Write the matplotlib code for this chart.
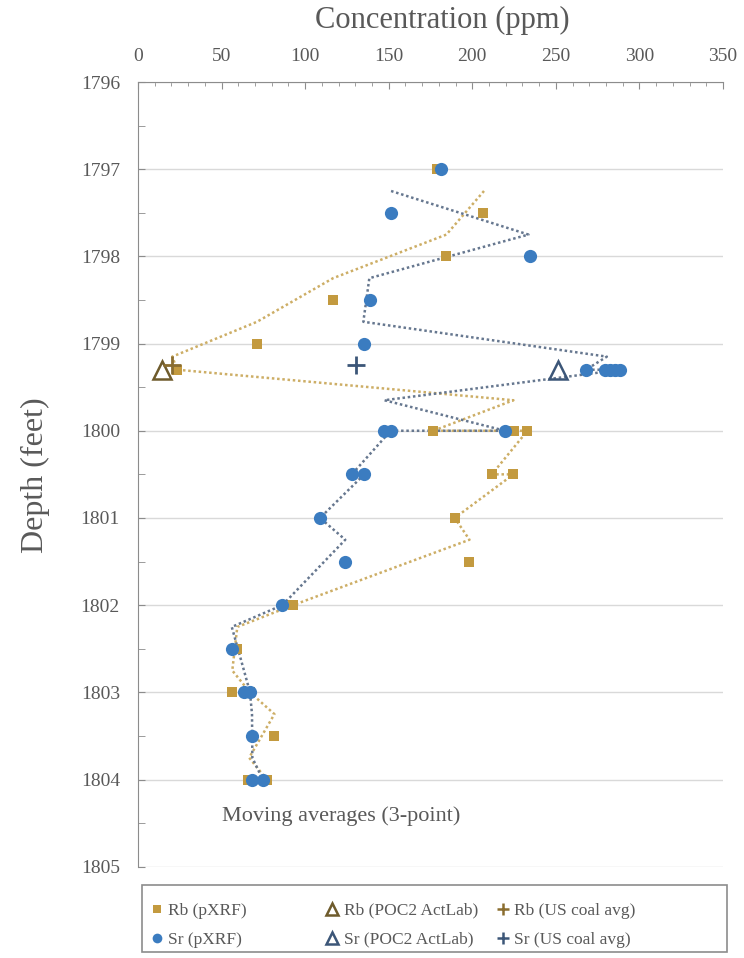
import matplotlib
matplotlib.use("Agg")
import matplotlib.pyplot as plt
import numpy as np
from matplotlib.lines import Line2D
from matplotlib.patches import Rectangle
from matplotlib.ticker import MultipleLocator

plt.rcParams['font.family'] = ['Liberation Serif', 'DejaVu Serif']

# pXRF readings (concentration in ppm, depth in feet)
rb_depth = [1797.0, 1797.5, 1798.0, 1798.5, 1799.0, 1799.3, 1800.0, 1800.0, 1800.0,
            1800.5, 1800.5, 1801.0, 1801.5, 1802.0, 1802.5, 1803.0, 1803.0, 1803.5,
            1804.0, 1804.0]
rb_conc = [179, 206.5, 184.5, 116.7, 71.2, 23.5, 176.7, 225, 233,
           211.7, 224.6, 189.5, 198.3, 92.8, 59.4, 56.4, 67, 81.6,
           66, 77]

sr_depth = [1797.0, 1797.5, 1798.0, 1798.5, 1799.0, 1799.3, 1799.3, 1799.3, 1799.3,
            1799.3, 1800.0, 1800.0, 1800.0, 1800.5, 1800.5, 1801.0, 1801.5, 1802.0,
            1802.5, 1803.0, 1803.0, 1803.5, 1804.0, 1804.0]
sr_conc = [181.3, 151.4, 234.6, 138.8, 135.2, 268, 279.5, 282.5, 285.5,
           288.5, 147.4, 219.6, 151.2, 127.9, 135.4, 108.9, 124, 86.4,
           56.1, 63.4, 67, 68.2, 68.4, 74.6]

# moving average lines
rb_ma_depth = [1797.25, 1797.75, 1798.25, 1798.75, 1799.15, 1799.3, 1799.65, 1800.0,
               1800.0, 1800.5, 1800.5, 1801.0, 1801.25, 1802.0, 1802.25, 1802.75,
               1803.0, 1803.25, 1803.75, 1804.0]
rb_ma_conc = [207, 184.5, 116.7, 71.2, 20.5, 23.5, 224.6, 176.7,
              233, 211.7, 224.6, 189.5, 198.3, 92.8, 59.4, 56.4,
              67, 81.6, 66.5, 77]

sr_ma_depth = [1797.25, 1797.75, 1798.25, 1798.75, 1799.15, 1799.3, 1799.3, 1799.65,
               1800.0, 1800.0, 1800.5, 1800.5, 1801.0, 1801.25, 1802.0, 1802.25,
               1802.75, 1803.0, 1803.25, 1803.75, 1804.0]
sr_ma_conc = [151.4, 233.6, 138.4, 134.8, 280.5, 268, 289, 147.4,
              219.6, 151.2, 127.9, 135.4, 108.9, 124, 86.4, 56.1,
              63.4, 67, 68.2, 68.4, 74.6]

# reference values
rb_poc2 = (14.2, 1799.3)
sr_poc2 = (251.3, 1799.3)
rb_us = (20.5, 1799.25)
sr_us = (130.3, 1799.25)

gold = '#C39A3F'
blue = '#3B7CC0'
gold_dark = '#6E5B2C'
blue_dark = '#3C5678'
gold_plus = '#8A6D2F'
gold_line = '#CDAE66'
blue_line = '#66778F'
txt = '#595959'
spine = '#8C8C8C'

fig = plt.figure(figsize=(7.44, 9.58), dpi=100)
ax = fig.add_axes([0.1855, 0.0953, 0.7863, 0.8191])

ax.plot(rb_ma_conc, rb_ma_depth, color=gold_line, lw=1.8, ls=(0, (1, 1.1)), zorder=2)
ax.plot(sr_ma_conc, sr_ma_depth, color=blue_line, lw=1.8, ls=(0, (1, 1.1)), zorder=2)

ax.plot(rb_conc, rb_depth, 's', color=gold, ms=7.5, mew=0, zorder=3)
ax.plot(sr_conc, sr_depth, 'o', color=blue, ms=9.5, mew=0, zorder=4)
ax.plot(*rb_poc2, '^', mfc='none', mec=gold_dark, ms=13, mew=1.8, zorder=5)
ax.plot(*sr_poc2, '^', mfc='none', mec=blue_dark, ms=13, mew=1.8, zorder=5)
ax.plot(*rb_us, '+', color=gold_plus, ms=13, mew=2, zorder=5)
ax.plot(*sr_us, '+', color=blue_dark, ms=13, mew=2, zorder=5)

ax.set_xlim(0, 350)
ax.set_ylim(1805, 1796)
ax.xaxis.tick_top()
ax.set_xticks(np.arange(0, 351, 50))
ax.xaxis.set_minor_locator(MultipleLocator(10))
ax.set_yticks(np.arange(1796, 1806, 1))
ax.yaxis.set_minor_locator(MultipleLocator(0.5))
ax.tick_params(axis='both', which='both', direction='in', color=spine,
               labelcolor=txt, labelsize=14)
ax.tick_params(axis='x', which='major', length=5, pad=12)
ax.tick_params(axis='x', which='minor', length=3)
ax.tick_params(axis='y', which='both', length=5, pad=13)
ax.yaxis.grid(True, which='major', color='#D9D9D9', lw=1)
ax.set_axisbelow(True)

for s in ['right', 'bottom']:
    ax.spines[s].set_visible(False)
for s in ['left', 'top']:
    ax.spines[s].set_color(spine)

ax.text(50, 1804.42, 'Moving averages (3-point)', fontsize=16, color=txt, va='center')

fig.text(0.594, 0.979, 'Concentration (ppm)', fontsize=22, color=txt, ha='center', va='center')
fig.text(0.047, 0.504, 'Depth (feet)', fontsize=23, color=txt, ha='center', va='center',
         rotation=90)

# legend: three columns inside one box
handles = [
    Line2D([], [], ls='none', marker='s', color=gold, ms=6, mew=0),
    Line2D([], [], ls='none', marker='o', color=blue, ms=7, mew=0),
    Line2D([], [], ls='none', marker='^', mfc='none', mec=gold_dark, ms=8, mew=1.8),
    Line2D([], [], ls='none', marker='^', mfc='none', mec=blue_dark, ms=8, mew=1.8),
    Line2D([], [], ls='none', marker='+', color=gold_plus, ms=8, mew=1.8),
    Line2D([], [], ls='none', marker='+', color=blue_dark, ms=8, mew=1.8),
]
labels = ['Rb (pXRF)', 'Sr (pXRF)', 'Rb (POC2 ActLab)', 'Sr (POC2 ActLab)',
          'Rb (US coal avg)', 'Sr (US coal avg)']
col_x = [0.2016, 0.4375, 0.6667]
for i, x in enumerate(col_x):
    fig.legend(handles[2 * i:2 * i + 2], labels[2 * i:2 * i + 2], loc='upper left',
               bbox_to_anchor=(x, 0.058), frameon=False, fontsize=12.5,
               handlelength=0.8, handletextpad=0.25, labelspacing=0.75,
               borderpad=0, borderaxespad=0, labelcolor=txt)

fig.add_artist(Rectangle((0.191, 0.006), 0.786, 0.0705, transform=fig.transFigure,
                         fill=False, edgecolor=spine, lw=1.2))

fig.savefig('out.png', dpi=100)
